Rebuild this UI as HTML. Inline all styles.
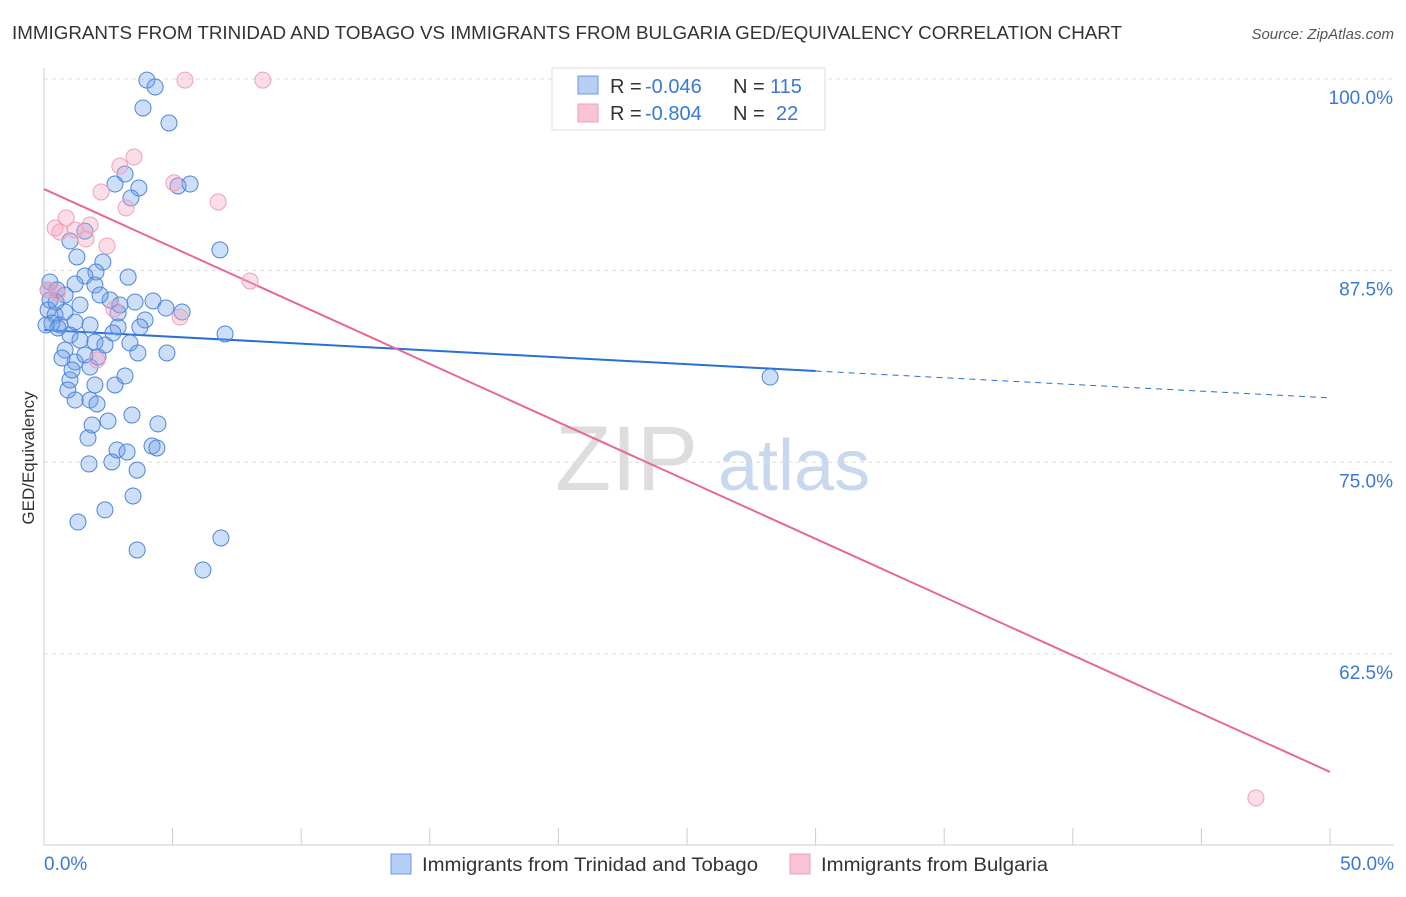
<!DOCTYPE html>
<html><head><meta charset="utf-8"><style>
body{margin:0;background:#fff;font-family:"Liberation Sans",sans-serif}
svg text{font-family:"Liberation Sans",sans-serif}
</style></head><body>
<svg id="c" width="1406" height="892">
<text x="12" y="39" font-size="18" fill="#333" textLength="1110" lengthAdjust="spacingAndGlyphs">IMMIGRANTS FROM TRINIDAD AND TOBAGO VS IMMIGRANTS FROM BULGARIA GED/EQUIVALENCY CORRELATION CHART</text>
<text x="1394" y="39" font-size="15" fill="#555" text-anchor="end" font-style="italic">Source: ZipAtlas.com</text>
<text x="34" y="458" font-size="17" fill="#333" text-anchor="middle" transform="rotate(-90 34 458)">GED/Equivalency</text>
<g><text x="555" y="490" font-size="92" fill="#ddd" font-family="Liberation Serif">ZIP</text><text x="718" y="490" font-size="72" fill="#c8d8ee">atlas</text></g>
<g id="grid"></g><g id="axes"></g><g id="trend"></g><g id="pts"></g>
<g>
<rect x="552" y="68" width="273" height="62" fill="#fff" stroke="#ddd"/>
<rect x="578" y="76" width="20" height="18" fill="#b7cff5" stroke="#6a9be0"/>
<rect x="578" y="104" width="20" height="18" fill="#f9c3d3" stroke="#f0a0b8"/>
<text y="93" font-size="20" fill="#333"><tspan x="610">R = </tspan><tspan x="645" fill="#3a78d8">-0.046</tspan><tspan x="733">N = </tspan><tspan x="770" fill="#3a78d8">115</tspan></text>
<text y="120" font-size="20" fill="#333"><tspan x="610">R = </tspan><tspan x="645" fill="#3a78d8">-0.804</tspan><tspan x="733">N = </tspan><tspan x="776" fill="#3a78d8">22</tspan></text>
</g>
<g>
<rect x="391" y="854" width="20" height="20" fill="#b7cff5" stroke="#6a9be0"/>
<text x="422" y="871" font-size="19" fill="#333" textLength="336" lengthAdjust="spacingAndGlyphs">Immigrants from Trinidad and Tobago</text>
<rect x="790" y="854" width="20" height="20" fill="#f9c3d3" stroke="#f0a0b8"/>
<text x="821" y="871" font-size="19" fill="#333" textLength="227" lengthAdjust="spacingAndGlyphs">Immigrants from Bulgaria</text>
</g>
</svg>
<script>
const blueX=[4.0,4.32,3.85,4.86,3.15,2.76,3.69,5.21,5.68,3.38,6.84,1.59,1.01,1.28,2.29,2.02,3.27,1.59,0.23,0.51,0.82,1.21,1.98,2.57,3.54,4.24,4.74,5.37,2.88,3.93,0.23,0.16,0.43,0.62,0.82,1.21,1.79,2.88,3.73,7.04,1.01,1.4,1.98,0.82,1.21,1.79,2.1,2.68,3.34,3.65,4.78,1.01,1.98,2.76,3.15,1.21,1.79,2.06,2.49,3.42,4.43,1.87,1.71,2.84,3.23,4.2,4.39,2.64,3.62,1.75,3.46,2.37,1.32,3.62,6.88,6.18,28.23,0.31,0.54,0.7,0.93,1.09,1.59,2.37,0.16,0.08,0.47,1.4,2.18,2.95];
const blueY=[99.93,99.48,98.11,97.13,93.8,93.15,92.89,93.02,93.15,92.24,88.85,90.08,89.43,88.39,88.06,87.41,87.08,87.15,86.76,86.24,85.91,86.63,86.56,85.58,85.45,85.52,85.06,84.8,84.74,84.28,85.58,84.93,84.61,83.95,84.8,84.15,83.95,83.82,83.82,83.37,83.3,82.97,82.84,82.32,81.54,81.21,81.87,83.43,82.78,82.13,82.13,80.37,80.04,80.04,80.63,79.06,79.06,78.8,77.69,78.08,77.5,77.43,76.58,75.8,75.67,76.06,75.93,75.02,74.49,74.89,72.8,71.89,71.1,69.28,70.06,67.97,80.56,84.08,83.76,81.8,79.71,81.02,82.0,82.65,86.24,83.95,85.45,85.26,85.91,85.26];
const pinkX=[5.48,8.51,3.5,2.95,5.05,2.22,3.19,6.77,0.43,0.86,1.21,1.79,1.63,2.45,8.01,0.51,2.72,5.29,2.06,47.12,0.62,0.16];
const pinkY=[99.93,99.93,94.91,94.32,93.22,92.63,91.59,91.98,90.28,90.93,90.15,90.48,89.56,89.11,86.82,86.04,84.99,84.47,81.67,53.1,90.02,86.24];
const yTicks=[100,87.5,75,62.5];
const yTickLabels=["100.0%","87.5%","75.0%","62.5%"];
const blueTrend=[[0,83.63],[30,80.95],[50,79.2]];
const pinkTrend=[[0,92.82],[50,54.8]];
const sx=v=>44+v*25.72, sy=v=>79+(100-v)*15.33;
const NS="http://www.w3.org/2000/svg";
function mk(p,t,a){const e=document.createElementNS(NS,t);for(const k in a)e.setAttribute(k,a[k]);p.appendChild(e);return e;}
const grid=document.getElementById('grid'),axes=document.getElementById('axes'),trend=document.getElementById('trend'),pts=document.getElementById('pts');
yTicks.forEach((t,i)=>{
 const l=mk(grid,'line',{x1:44,x2:1394,y1:sy(t),y2:sy(t),stroke:'#ddd','stroke-dasharray':'4,4'});
 
 
 const tx=mk(axes,'text',{x:1393,y:sy(t)+25,'font-size':19,fill:'#3a78d8','text-anchor':'end'});
 tx.textContent=yTickLabels[i];
 
 
});
const ax=mk(axes,'line',{x1:44,x2:1394,y1:845,y2:845,stroke:'#ccc'});


const ay=mk(axes,'line',{x1:44,x2:44,y1:68,y2:845,stroke:'#ccc'});


for(let i=0;i<=10;i++){const t=mk(axes,'line',{x1:sx(i*5),x2:sx(i*5),y1:828,y2:845,stroke:'#ccc'});
 
 }
[["0.0%",44,'start'],["50.0%",1394,'end']].forEach(([s,x,a])=>{const t=mk(axes,'text',{x:x,y:870,'font-size':19,fill:'#3a78d8','text-anchor':a});t.textContent=s;
 
 });
const b1=mk(trend,'line',{x1:sx(blueTrend[0][0]),y1:sy(blueTrend[0][1]),x2:sx(blueTrend[1][0]),y2:sy(blueTrend[1][1]),stroke:'#2a6fd6','stroke-width':2});


const b2=mk(trend,'line',{x1:sx(blueTrend[1][0]),y1:sy(blueTrend[1][1]),x2:sx(blueTrend[2][0]),y2:sy(blueTrend[2][1]),stroke:'#2a6fd6','stroke-width':1,'stroke-dasharray':'6,5'});


const p1=mk(trend,'line',{x1:sx(pinkTrend[0][0]),y1:sy(pinkTrend[0][1]),x2:sx(pinkTrend[1][0]),y2:sy(pinkTrend[1][1]),stroke:'#e8679a','stroke-width':2});


blueX.forEach((x,i)=>{const c=mk(pts,'circle',{cx:sx(x),cy:sy(blueY[i]),r:8,fill:'rgba(110,160,235,0.35)',stroke:'#4f86d8','stroke-width':1});
 
 });
pinkX.forEach((x,i)=>{const c=mk(pts,'circle',{cx:sx(x),cy:sy(pinkY[i]),r:8,fill:'rgba(245,160,190,0.35)',stroke:'#f0a0b8','stroke-width':1});
 
 });
</script>
</body></html>
